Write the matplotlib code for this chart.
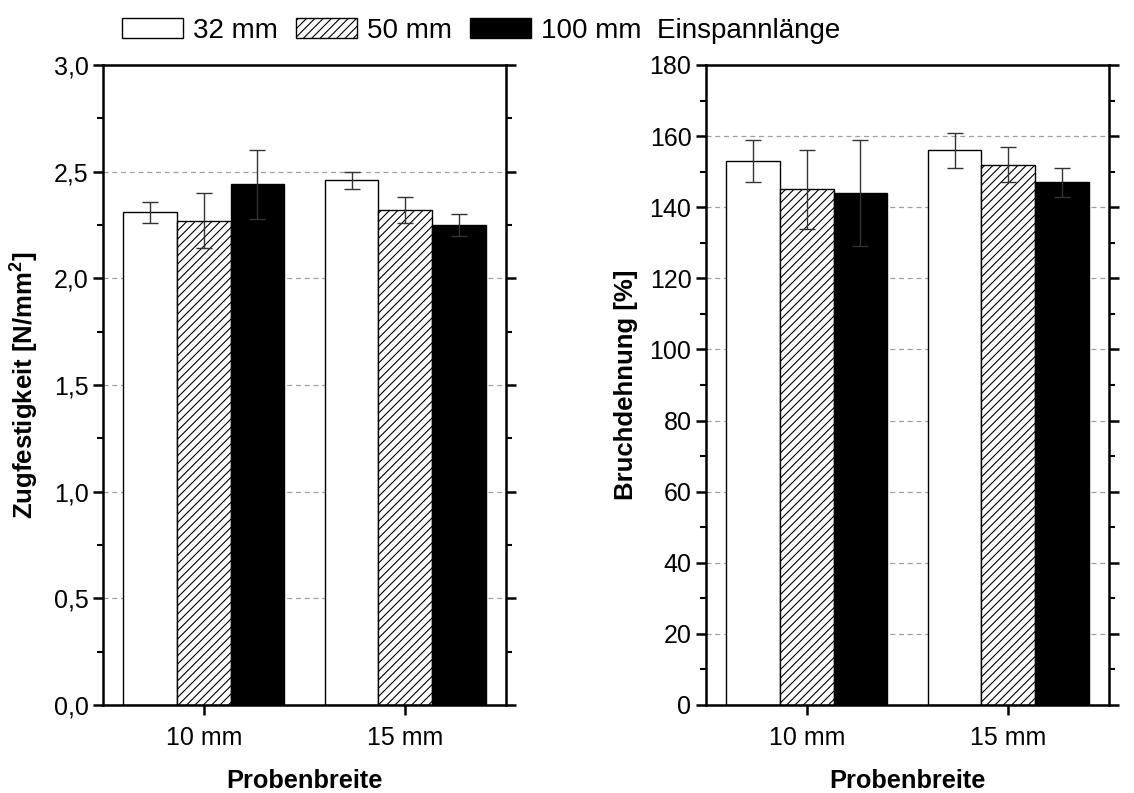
import matplotlib.pyplot as plt
import numpy as np
from matplotlib.ticker import MultipleLocator

plt.rcParams['font.family'] = ['Liberation Sans', 'DejaVu Sans']
plt.rcParams['mathtext.fontset'] = 'custom'
plt.rcParams['mathtext.bf'] = 'Liberation Sans:bold'
plt.rcParams['mathtext.rm'] = 'Liberation Sans'
plt.rcParams['hatch.linewidth'] = 0.8

# data
widths = ['10 mm', '15 mm']
lengths = ['32 mm', '50 mm', '100 mm  Einspannlänge']

strength = [[2.31, 2.46], [2.27, 2.32], [2.44, 2.25]]
strength_err = [[0.05, 0.04], [0.13, 0.06], [0.16, 0.05]]

elong = [[153, 156], [145, 152], [144, 147]]
elong_err = [[6, 5], [11, 5], [15, 4]]

left_yticks = [0.0, 0.5, 1.0, 1.5, 2.0, 2.5, 3.0]
left_ylabels = ['0,0', '0,5', '1,0', '1,5', '2,0', '2,5', '3,0']
right_yticks = [0, 20, 40, 60, 80, 100, 120, 140, 160, 180]

colors = ['white', 'white', 'black']
hatches = [None, '////', None]

fig = plt.figure(figsize=(11.34, 7.93), dpi=100)
ax1 = fig.add_axes([103/1134, 1-705/793, 403/1134, 640/793])
ax2 = fig.add_axes([706/1134, 1-705/793, 403/1134, 640/793])

x = np.arange(1, len(widths) + 1)
bw = 0.8 / 3


def draw(ax, vals, errs, minor):
    for i in range(3):
        ax.bar(x + (i - 1) * bw, vals[i], bw, color=colors[i], hatch=hatches[i],
               edgecolor='black', linewidth=1, label=lengths[i], zorder=2)
        ax.errorbar(x + (i - 1) * bw, vals[i], yerr=errs[i], fmt='none',
                    ecolor='#333333', elinewidth=1, capsize=5.5, capthick=1, zorder=3)
    ax.set_xlim(0.5, 2.5)
    ax.set_xticks(x)
    ax.set_xticklabels(widths)
    ax.yaxis.set_minor_locator(MultipleLocator(minor))
    ax.yaxis.grid(True, which='major', linestyle=(0, (4, 3)), color='#a0a0a0', linewidth=0.9, zorder=0)
    ax.set_axisbelow(True)
    for s in ax.spines.values():
        s.set_linewidth(1.8)
    ax.tick_params(axis='both', which='major', labelsize=18, length=7, width=1.8, direction='out')
    ax.tick_params(axis='y', which='minor', length=4, width=1.5, direction='out')
    ax.tick_params(axis='y', which='both', right=True)
    ax.tick_params(axis='x', which='major', pad=8)
    ax.set_xlabel('Probenbreite', fontsize=18.3, fontweight='bold', labelpad=14)


draw(ax1, strength, strength_err, 0.25)
ax1.set_ylim(0, 3.0)
ax1.set_yticks(left_yticks)
ax1.set_yticklabels(left_ylabels)
ax1.set_ylabel(r'Zugfestigkeit [N/mm$^\mathbf{2}$]', fontsize=18.5, fontweight='bold', labelpad=10)

draw(ax2, elong, elong_err, 10)
ax2.set_ylim(0, 180)
ax2.set_yticks(right_yticks)
ax2.set_ylabel('Bruchdehnung [%]', fontsize=18.5, fontweight='bold', labelpad=8)

handles, labels = ax1.get_legend_handles_labels()
fig.legend(handles, labels, loc='center left', bbox_to_anchor=(122/1134, 1-31/793),
           ncol=3, frameon=False, fontsize=20, handlelength=2.2, handleheight=0.72,
           handletextpad=0.36, columnspacing=0.65, borderaxespad=0, borderpad=0)

fig.savefig('out.png', dpi=100)
